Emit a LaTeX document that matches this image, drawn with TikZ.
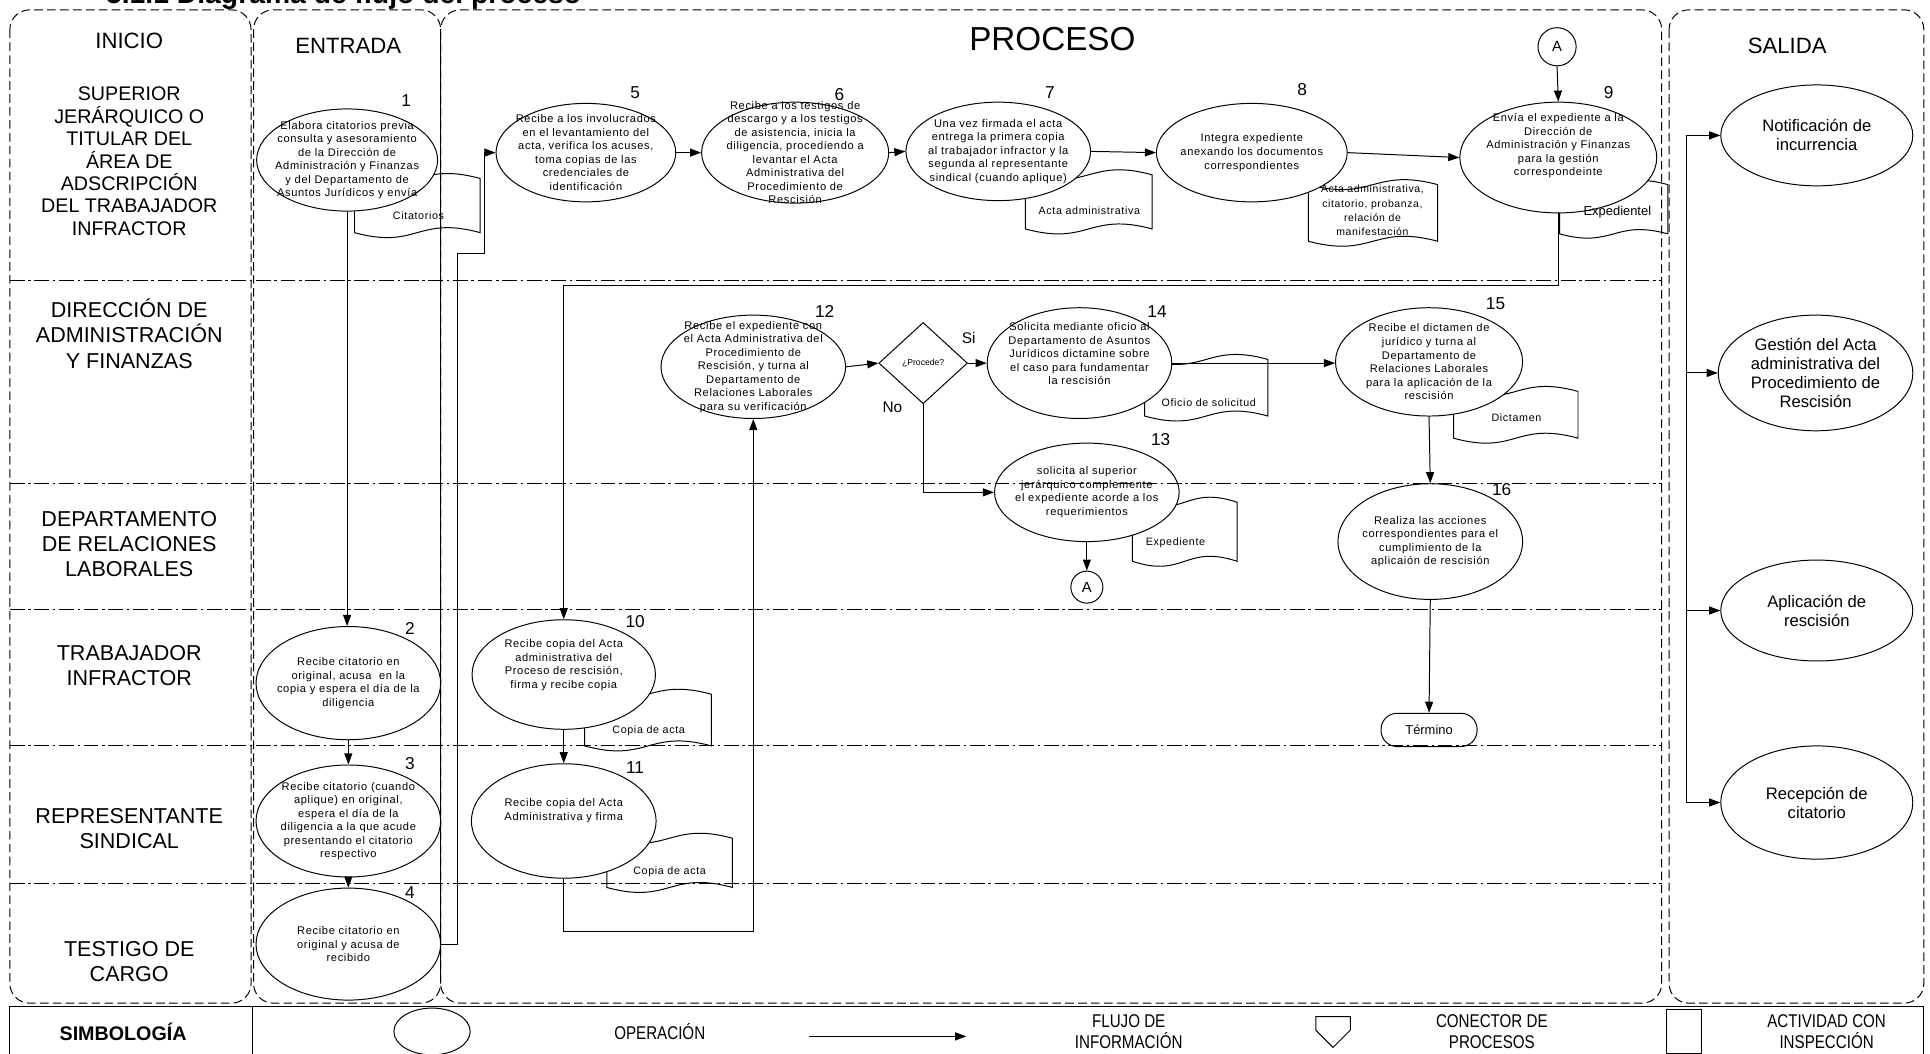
\documentclass[tikz,border=0pt]{standalone}
\usepackage{fontspec}
\setmainfont{Liberation Sans}
\newfontfamily\opff[LetterSpace=6]{Liberation Sans}
\newfontfamily\narrowff[FakeStretch=0.82]{Liberation Sans}
\usetikzlibrary{shapes.geometric,arrows.meta}
\newcommand{\tapeshape}[5]{%
  \draw[docline] (#1,#2) .. controls +(0.5*#3,2*#5) and +(-0.5*#3,-2*#5) .. ++(#3,0) -- ++(0,#4) .. controls +(-0.5*#3,-2*#5) and +(0.5*#3,2*#5) .. ++(-#3,0) -- cycle;}
\begin{document}
\begin{tikzpicture}[x=1pt,y=-1pt,
  every node/.style={inner sep=0pt},
  opbox/.style={ellipse, draw, fill=white, line width=0.8pt, align=center, inner xsep=-40pt, inner ysep=-30pt, font=\opff\fontsize{9}{11}\selectfont},
  outbox/.style={ellipse, draw, fill=white, line width=0.8pt, align=center, inner xsep=-40pt, inner ysep=-30pt, font=\fontsize{13.5}{15.5}\selectfont},
  flow/.style={draw, line width=0.8pt, -{Triangle[length=9pt,width=6.5pt]}},
  conn/.style={draw, line width=0.8pt},
  numlab/.style={font=\fontsize{14}{14}\selectfont},
  doctext/.style={font=\opff\fontsize{8.7}{11}\selectfont, align=center},
  docline/.style={line width=0.8pt},
  colbox/.style={draw, dash pattern=on 7pt off 3.5pt, rounded corners=16pt, line width=0.8pt},
  lanediv/.style={draw, dash pattern=on 12pt off 3pt on 2pt off 3pt, line width=0.8pt},
  hdr/.style={font=\fontsize{18}{18}\selectfont},
  lanelab/.style={align=center, font=\fontsize{17.5}{20.5}\selectfont},
  legt/.style={align=center, font=\narrowff\fontsize{15}{17}\selectfont},
  conA/.style={circle, draw, fill=white, line width=0.8pt, font=\fontsize{12}{12}\selectfont}
]
\useasboundingbox (0,0) rectangle (1568,856);

% title (cut at top, as in the reference)
\node[anchor=base west, font=\bfseries\fontsize{23}{23}\selectfont] (title) at (86,3) {5.1.1 Diagrama de flujo del proceso};

% ---------- documents (behind ellipses)
\tapeshape{288}{145}{102}{44}{7}
\tapeshape{833}{142}{103}{44}{7}
\tapeshape{1063}{150}{105}{46}{7}
\tapeshape{1267}{150}{88}{40}{6}
\tapeshape{930}{292}{100}{46}{7}
\tapeshape{1181}{318}{101}{38}{7}
\tapeshape{920}{408}{85}{48}{7}
\tapeshape{475}{564}{103}{42}{7}
\tapeshape{493}{681}{102}{40}{7}

% ---------- operations
\node[opbox, minimum width=147pt, minimum height=83pt] (n1) at (282,130) {Elabora citatorios previa\\consulta y asesoramiento\\de la Dirección de\\Administración y Finanzas\\y del Departamento de\\Asuntos Jurídicos y envía};
\node[opbox, minimum width=146pt, minimum height=80pt] (n5) at (476,124) {Recibe a los involucrados\\en el levantamiento del\\acta, verifica los acuses,\\toma copias de las\\credenciales de\\identificación};
\node[opbox, minimum width=152pt, minimum height=82pt] (n6) at (646,124) {Recibe a los testigos de\\descargo y a los testigos\\de asistencia, inicia la\\diligencia, procediendo a\\levantar el Acta\\Administrativa del\\Procedimiento de\\Rescisión};
\node[opbox, minimum width=150pt, minimum height=80pt] (n7) at (811,123) {Una vez firmada el acta\\entrega la primera copia\\al trabajador infractor y la\\segunda al representante\\sindical (cuando aplique)};
\node[opbox, minimum width=155pt, minimum height=80pt] (n8) at (1017,124) {Integra expediente\\anexando los documentos\\correspondientes};
\node[opbox, minimum width=160pt, minimum height=90pt] (n9) at (1266,128) {Envía el expediente a la\\Dirección de\\Administración y Finanzas\\para la gestión\\correspondeinte\\[10pt]};
\node[opbox, minimum width=150pt, minimum height=84pt] (n12) at (612,298) {Recibe el expediente con\\el Acta Administrativa del\\Procedimiento de\\Rescisión, y turna al\\Departamento de\\Relaciones Laborales\\para su verificación};
\node[diamond, draw, fill=white, line width=0.8pt, minimum width=72pt, minimum height=66pt, font=\fontsize{7}{7}\selectfont] (dia) at (750,295) {¿Procede?};
\node[opbox, minimum width=150pt, minimum height=90pt] (n14) at (877,295) {Solicita mediante oficio al\\Departamento de Asuntos\\Jurídicos dictamine sobre\\el caso para fundamentar\\la rescisión\\[4pt]};
\node[opbox, minimum width=152pt, minimum height=88pt] (n15) at (1161,294) {Recibe el dictamen de\\jurídico y turna al\\Departamento de\\Relaciones Laborales\\para la aplicación de la\\rescisión};
\node[opbox, minimum width=150pt, minimum height=80pt] (n13) at (883,400) {solicita al superior\\jerárquico complemente\\el expediente acorde a los\\requerimientos};
\node[opbox, minimum width=150pt, minimum height=94pt] (n16) at (1162,440) {Realiza las acciones\\correspondientes para el\\cumplimiento de la\\aplicaión de rescisión};
\node[opbox, minimum width=150pt, minimum height=92pt] (n2) at (283,555) {Recibe citatorio en\\original, acusa \ en la\\copia y espera el día de la\\diligencia};
\node[opbox, minimum width=150pt, minimum height=91pt] (n3) at (283,667) {Recibe citatorio (cuando\\aplique) en original,\\espera el día de la\\diligencia a la que acude\\presentando el citatorio\\respectivo};
\node[opbox, minimum width=150pt, minimum height=91pt] (n4) at (283,767) {Recibe citatorio en\\original y acusa de\\recibido};
\node[opbox, minimum width=149pt, minimum height=89pt] (n10) at (458,548) {Recibe copia del Acta\\administrativa del\\Proceso de rescisión,\\firma y recibe copia\\[6pt]};
\node[opbox, minimum width=150pt, minimum height=93pt] (n11) at (458,667) {Recibe copia del Acta\\Administrativa y firma\\[8pt]};
\node[draw, fill=white, line width=0.8pt, rounded corners=13pt, minimum width=78pt, minimum height=27pt, font=\fontsize{10.5}{10.5}\selectfont] (term) at (1161,593) {Término};
\node[conA, minimum size=31pt] (A1) at (1265,38) {A};
\node[conA, minimum size=26pt] (A2) at (883,477) {A};

% ---------- outputs
\node[outbox, minimum width=156pt, minimum height=82pt] (out1) at (1476,110) {Notificación de\\incurrencia};
\node[outbox, minimum width=158pt, minimum height=94pt] (out2) at (1475,303) {Gestión del Acta\\administrativa del\\Procedimiento de\\Rescisión};
\node[outbox, minimum width=156pt, minimum height=82pt] (out3) at (1476,496) {Aplicación de\\rescisión};
\node[outbox, minimum width=156pt, minimum height=92pt] (out4) at (1476,652) {Recepción de\\citatorio};

% ---------- lanes and columns
\foreach \yy in {228,393,495,606,718} \draw[lanediv] (8,\yy) -- (1350,\yy);
\draw[colbox] (8,8) rectangle (204,815);
\draw[colbox] (206,8) rectangle (358,815);
\draw[colbox] (358,8) rectangle (1350,815);
\draw[colbox] (1356,8) rectangle (1563,815);
\draw[line width=0.8pt] (358,24) -- (358,799);

% headers
\node[hdr] (hInicio) at (105,33) {INICIO};
\node[hdr] (hEntrada) at (283,37) {ENTRADA};
\node[font=\fontsize{27}{27}\selectfont] (hProceso) at (855,32) {PROCESO};
\node[hdr] (hSalida) at (1452,37) {SALIDA};

% lane labels
\node[lanelab, font=\fontsize{16}{18.2}\selectfont] (lane1) at (105,131) {SUPERIOR\\JERÁRQUICO O\\TITULAR DEL\\ÁREA DE\\ADSCRIPCIÓN\\DEL TRABAJADOR\\INFRACTOR};
\node[lanelab] (lane2) at (105,271) {DIRECCIÓN DE\\ADMINISTRACIÓN\\Y FINANZAS};
\node[lanelab] (lane3) at (105,442) {DEPARTAMENTO\\DE RELACIONES\\LABORALES};
\node[lanelab] (lane4) at (105,541) {TRABAJADOR\\INFRACTOR};
\node[lanelab] (lane5) at (105,673) {REPRESENTANTE\\SINDICAL};
\node[lanelab] (lane6) at (105,781) {TESTIGO DE\\CARGO};

% ---------- connectors
\coordinate (c4a) at (372,767);
\coordinate (c4b) at (372,206);
\coordinate (c4c) at (394,206);
\coordinate (c4d) at (394,124);
\draw[flow] (n1.south) -- (n1.south |- n2.north);
\draw[flow] (n2.south) -- (n3.north);
\draw[flow] (n3.south) -- (n4.north);
\draw[flow] (n4.east) -- (c4a) -- (c4b) -- (c4c) -- (c4d) -- (n5.west);
\draw[flow] (n5.east) -- (n6.west);
\draw[flow] (n6.east) -- (n7.west);
\draw[flow] (n7.east) -- (n8.west);
\draw[flow] (n8.east) -- (n9.west);
\draw[flow] (A1.south) -- (n9.north);
\coordinate (c9a) at (1266,232);
\coordinate (c9b) at (458,232);
\draw[flow] (n9.south) -- (c9a) -- (c9b) -- (n10.north);
\draw[flow] (n10.south) -- (n11.north);
\coordinate (c11a) at (458,757);
\coordinate (c11b) at (612,757);
\draw[flow] (n11.south) -- (c11a) -- (c11b) -- (n12.south);
\draw[flow] (n12.east) -- (dia.west);
\draw[flow] (dia.east) -- (n14.west);
\coordinate (cdia) at (750,400);
\draw[flow] (dia.south) -- (cdia) -- (n13.west);
\draw[flow] (n14.east) -- (n14.east -| n15.west);
\draw[flow] (n15.south) -- (n16.north);
\draw[flow] (n13.south) -- (A2.north);
\draw[flow] (n16.south) -- (term.north);
\coordinate (s1) at (1370,110);
\coordinate (s2) at (1370,303);
\coordinate (s3) at (1370,496);
\coordinate (s4) at (1370,652);
\draw[conn] (s1) -- (s4);
\draw[flow] (s1) -- (out1.west);
\draw[flow] (s2) -- (out2.west);
\draw[flow] (s3) -- (out3.west);
\draw[flow] (s4) -- (out4.west);

\node[font=\fontsize{12.5}{12.5}\selectfont] (si) at (787,275) {Si};
\node[font=\fontsize{12.5}{12.5}\selectfont] (no) at (725,331) {No};

% ---------- numbers
\node[numlab] (l1) at (330,82) {1};
\node[numlab] (l5) at (516,75) {5};
\node[numlab] (l6) at (682,77) {6};
\node[numlab] (l7) at (853,75) {7};
\node[numlab] (l8) at (1058,73) {8};
\node[numlab] (l9) at (1307,75) {9};
\node[numlab] (l12) at (670,253) {12};
\node[numlab] (l14) at (940,253) {14};
\node[numlab] (l15) at (1215,247) {15};
\node[numlab] (l13) at (943,357) {13};
\node[numlab] (l16) at (1220,398) {16};
\node[numlab] (l10) at (516,505) {10};
\node[numlab] (l11) at (516,624) {11};
\node[numlab] (l2) at (333,511) {2};
\node[numlab] (l3) at (333,620) {3};
\node[numlab] (l4) at (333,725) {4};

% ---------- document texts
\node[doctext] (d1) at (340,175) {Citatorios};
\node[doctext] (d7) at (885,171) {Acta administrativa};
\node[doctext, font=\opff\fontsize{8.5}{11.5}\selectfont] (d8) at (1115,171) {Acta administrativa,\\citatorio, probanza,\\relación de\\manifestación};
\node[font=\fontsize{10.5}{10.5}\selectfont] (d9) at (1314,172) {Expedientel};
\node[doctext] (d14) at (982,327) {Oficio de solicitud};
\node[doctext] (d15) at (1232,339) {Dictamen};
\node[doctext] (d13) at (955,441) {Expediente};
\node[doctext] (d10) at (527,594) {Copia de acta};
\node[doctext] (d11) at (544,708) {Copia de acta};

% ---------- legend
\draw[line width=1pt] (8,862) -- (8,818) -- (1563,818) -- (1563,862);
\draw[line width=0.6pt] (205,818) -- (205,862);
\node[font=\bfseries\fontsize{16}{16}\selectfont] (simb) at (100,838) {SIMBOLOGÍA};
\node[ellipse, draw, line width=0.8pt, minimum width=62pt, minimum height=38pt] (legop) at (351,838) {};
\node[legt] (legopt) at (536,838) {OPERACIÓN};
\coordinate (legA1) at (657,842);
\coordinate (legA2) at (785,842);
\draw[flow] (legA1) -- (legA2);
\node[legt] (legflujo) at (917,838) {FLUJO DE\\INFORMACIÓN};
\draw[line width=0.8pt] (1069,826) -- (1097,826) -- (1097,837) -- (1083,851) -- (1069,837) -- cycle;
\node[legt] (legcon) at (1212,838) {CONECTOR DE\\PROCESOS};
\node[draw, line width=0.8pt, minimum width=29pt, minimum height=35pt] (legsq) at (1368,838) {};
\node[legt] (legact) at (1484,838) {ACTIVIDAD CON\\INSPECCIÓN};
\end{tikzpicture}
\end{document}
